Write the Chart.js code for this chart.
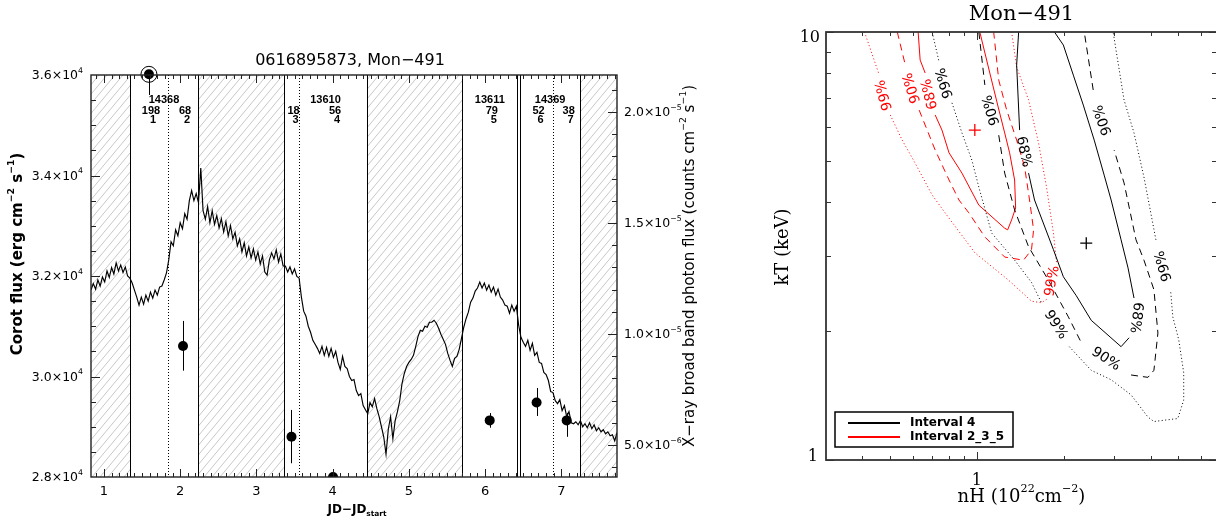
<!DOCTYPE html>
<html>
<head>
<meta charset="utf-8">
<script src="https://cdn.jsdelivr.net/npm/chart.js@4/dist/chart.umd.min.js"></script>
<style>
  html, body { margin: 0; padding: 0; background: #fff; overflow: hidden; width: 1216px; height: 520px; }
  #lc { position: absolute; left: 0; top: 0; }
  #ct { position: absolute; left: 740px; top: 0; }
</style>
</head>
<body>
<canvas id="lc" width="740" height="520"></canvas>
<canvas id="ct" width="500" height="520"></canvas>
<script>
// ---------------- Left panel: CoRoT light curve with Chandra fluxes ----------------
const corotTime = [
  0.83,0.86,0.89,0.92,0.95,0.98,1.01,1.04,1.07,1.10,
  1.13,1.16,1.19,1.22,1.25,1.28,1.31,1.34,1.37,1.40,
  1.43,1.46,1.49,1.52,1.55,1.58,1.61,1.64,1.67,1.70,
  1.73,1.76,1.79,1.82,1.85,1.88,1.91,1.94,1.97,2.00,
  2.03,2.06,2.09,2.12,2.15,2.18,2.21,2.24,2.27,2.30,
  2.33,2.36,2.39,2.42,2.45,2.48,2.51,2.54,2.57,2.60,
  2.63,2.66,2.69,2.72,2.75,2.78,2.81,2.84,2.87,2.90,
  2.93,2.96,2.99,3.02,3.05,3.08,3.11,3.14,3.17,3.20,
  3.23,3.26,3.29,3.32,3.35,3.38,3.41,3.44,3.47,3.50,
  3.53,3.56,3.59,3.62,3.65,3.68,3.71,3.74,3.77,3.80,
  3.83,3.86,3.89,3.92,3.95,3.98,4.01,4.04,4.07,4.10,
  4.13,4.16,4.19,4.22,4.25,4.28,4.31,4.34,4.37,4.40,
  4.43,4.46,4.49,4.52,4.55,4.58,4.61,4.64,4.67,4.70,
  4.73,4.76,4.79,4.82,4.85,4.88,4.91,4.94,4.97,5.00,
  5.03,5.06,5.09,5.12,5.15,5.18,5.21,5.24,5.27,5.30,
  5.33,5.36,5.39,5.42,5.45,5.48,5.51,5.54,5.57,5.60,
  5.63,5.66,5.69,5.72,5.75,5.78,5.81,5.84,5.87,5.90,
  5.93,5.96,5.99,6.02,6.05,6.08,6.11,6.14,6.17,6.20,
  6.23,6.26,6.29,6.32,6.35,6.38,6.41,6.44,6.47,6.50,
  6.53,6.56,6.59,6.62,6.65,6.68,6.71,6.74,6.77,6.80,
  6.83,6.86,6.89,6.92,6.95,6.98,7.01,7.04,7.07,7.10,
  7.13,7.16,7.19,7.22,7.25,7.28,7.31,7.34,7.37,7.40,
  7.43,7.46,7.49,7.52,7.55,7.58,7.61,7.64,7.67,7.70,
  7.73
];
const corotFlux = [
  31720,31850,31740,31920,31800,31980,31880,32100,31970,32170,
  32040,32260,32100,32220,32070,32180,32000,31960,31860,31720,
  31580,31420,31580,31440,31620,31500,31680,31560,31720,31620,
  31780,31800,31920,32060,32320,32680,32600,32920,32800,33060,
  32940,33240,33130,33500,33700,33500,33640,33460,34150,33300,
  33130,33380,33060,33300,33030,33200,32960,33140,32880,33080,
  32800,33000,32740,32870,32600,32740,32480,32660,32400,32580,
  32360,32540,32320,32480,32240,32400,32080,32020,32320,32460,
  32340,32520,32280,32440,32200,32200,32080,32180,32040,32140,
  31990,31960,31580,31300,31200,31000,30880,30720,30640,30560,
  30460,30600,30420,30580,30400,30560,30380,30500,30280,30140,
  30400,30200,30160,30000,29920,29940,29720,29620,29660,29420,
  29340,29260,29480,29400,29560,29360,29200,29000,28800,28450,
  28950,29200,28760,29120,29300,29520,29860,30060,30200,30280,
  30340,30420,30600,30800,30920,30900,31000,30980,31080,31080,
  31120,31060,30960,30840,30740,30640,30460,30320,30200,30360,
  30400,30540,30760,30980,31150,31280,31480,31560,31700,31760,
  31880,31760,31860,31720,31820,31680,31780,31620,31740,31580,
  31520,31420,31400,31260,31420,31300,31400,31020,30780,30680,
  30600,30720,30520,30660,30420,30480,30280,30260,30080,30040,
  29920,29700,29680,29520,29460,29540,29320,29420,29200,29300,
  29080,29060,29100,29040,29120,29000,29060,28980,29080,28960,
  29040,28920,28980,28900,28940,28860,28900,28820,28840,28720,
  28880
];

// X-ray broad band photon flux per interval (counts cm^-2 s^-1)
const xrayTime = [1.59, 2.037, 3.46, 4.005, 6.06, 6.675, 7.07];
const xrayFlux = [2.17e-5, 0.946e-5, 0.537e-5, 0.356e-5, 0.611e-5, 0.692e-5, 0.611e-5];
const xrayLow  = [2.077e-5, 0.835e-5, 0.418e-5, 0.356e-5, 0.578e-5, 0.631e-5, 0.537e-5];
const xrayHigh = [2.30e-5, 1.059e-5, 0.658e-5, 0.356e-5, 0.644e-5, 0.757e-5, 0.645e-5];

// Chandra pointings and the intervals they are split into
const obsIds    = ['14368', '13610', '13611', '14369'];
const obsSpans  = [[1.341, 2.234], [3.362, 4.451], [5.698, 6.424], [6.459, 7.247]];
const intervals = [[1.341, 1.84], [1.84, 2.234], [3.362, 3.559], [3.559, 4.451], [5.698, 6.424], [6.459, 6.892], [6.892, 7.247]];
const intervalCounts = ['198', '68', '18', '56', '79', '52', '38'];
const intervalNames  = ['1', '2', '3', '4', '5', '6', '7'];
const intervalSplits = [1.84, 3.559, 6.892];
const hatchedRanges  = [[0.83, 1.341], [2.234, 3.362], [4.451, 5.698], [7.247, 7.73]];

const jdTicks    = [1, 2, 3, 4, 5, 6, 7];
const fluxTicks  = [28000, 30000, 32000, 34000, 36000];
const fluxMant   = ['2.8', '3.0', '3.2', '3.4', '3.6'];
const xrayTicks  = [5e-6, 1e-5, 1.5e-5, 2e-5];
const xrayMant   = ['5.0', '1.0', '1.5', '2.0'];
const xrayExp    = ['−6', '−5', '−5', '−5'];

// ---------------- Right panel: nH-kT confidence contours ----------------
const int4C68 = [[1.396,10],[1.374,8.37],[1.407,5.90],null,[1.511,4.68],[1.585,4.05],[1.843,3.10],[1.995,2.68],[2.212,2.42],[2.492,2.12],[3.162,1.84],[3.370,1.93],null,[3.506,2.39],[3.343,2.81],[3.162,3.27],[2.921,4.05],[2.763,4.63],[2.552,5.59],[2.339,6.75],[2.160,7.93],[1.995,9.32],[1.858,10]];
const int4C90 = [[1.016,10],[1.066,7.52],null,[1.191,5.74],[1.249,4.68],[1.352,3.84],[1.511,3.15],[1.771,2.63],[2.076,2.16],[2.302,1.88],null,[3.424,1.58],[3.918,1.56],[4.110,1.62],[4.243,1.98],[4.110,2.50],[3.796,2.93],[3.562,3.27],[3.238,4.44],[2.991,5.30],null,[2.532,7.32],[2.357,10]];
const int4C99 = [[0.700,10],[0.740,8.51],null,[0.820,6.83],[0.888,5.81],[0.961,5.02],[1.016,4.34],[1.126,3.39],[1.352,2.93],[1.547,2.60],[1.675,2.33],null,[2.092,1.84],[2.492,1.62],[2.921,1.54],[3.424,1.42],[3.918,1.26],[4.110,1.23],[4.973,1.25],[5.213,1.38],[5.213,1.60],[5.010,1.91],[4.779,2.16],[4.700,2.47],null,[4.176,3.27],[3.796,4.58],[3.506,5.81],[3.238,6.94],[2.968,10]];
const int235C68 = [[0.626,10],[0.636,8.60],[0.662,8.02],null,[0.717,6.40],[0.757,5.90],[0.801,5.22],[0.888,4.68],[1.016,3.94],[1.249,3.48],[1.279,3.45],[1.320,3.64],[1.363,3.88],[1.352,4.51],[1.299,5.22],[1.249,5.81],[1.181,6.75],[1.109,8.02],[1.024,10]];
const int235C90 = [[0.530,10],[0.565,8.37],null,[0.631,6.57],[0.717,5.30],[0.801,4.51],[0.867,4.05],[0.938,3.78],[1.066,3.32],[1.249,2.98],[1.452,2.93],[1.547,3.10],[1.573,3.45],[1.523,4.05],[1.464,4.84],[1.374,5.59],[1.269,6.57],[1.191,7.72],[1.144,10]];
const int235C99 = [[0.408,10],[0.459,7.93],null,[0.501,6.40],[0.551,5.59],[0.611,4.94],[0.700,4.16],[0.776,3.78],[0.984,3.05],[1.289,2.63],[1.547,2.35],[1.675,2.33],[1.757,2.38],null,[1.888,2.90],[1.843,3.39],[1.743,4.35],[1.636,5.51],[1.511,6.94],[1.374,8.28],[1.320,10]];

const bestInt4   = [2.395, 3.21];
const bestInt235 = [0.984, 5.90];

// contour labels: [nH, kT, text, angle in degrees]
const int4Labels = [[0.776,7.60,'99%',-107],[1.126,6.57,'90%',-106],[1.452,5.25,'68%',78],[2.741,6.23,'90%',-109],[3.562,2.15,'68%',97],[1.873,2.07,'99%',57],[2.80,1.72,'90%',33],[4.45,2.84,'99%',-106]];
const int235Labels = [[0.478,7.12,'99%',-105],[0.597,7.40,'90%',-107],[0.688,7.16,'68%',-104],[1.828,2.62,'99%',-80]];
const legendLabels = ['Interval 4', 'Interval 2_3_5'];
const nhTicks = [0.4,0.5,0.6,0.7,0.8,0.9,1,2,3,4,5,6];
const ktTicks = [1,2,3,4,5,6,7,8,9,10];

// ---------------- helpers ----------------
function drawRich(ctx, parts, x, y, o) {
  const size = o.size, fam = o.family || 'DejaVu Sans', wt = o.weight || 'normal';
  const small = size * 0.62;
  const fontFor = lv => `${wt} ${lv ? small : size}px "${fam}"`;
  const widths = [];
  let w = 0;
  for (const [t, lv] of parts) { ctx.font = fontFor(lv); const m = ctx.measureText(t).width; widths.push(m); w += m; }
  let cx = o.align === 'right' ? x - w : (o.align === 'left' ? x : x - w / 2);
  ctx.textBaseline = 'middle';
  ctx.textAlign = 'left';
  parts.forEach(([t, lv], i) => {
    ctx.font = fontFor(lv);
    const dy = lv === 1 ? -size * 0.42 : (lv === -1 ? size * 0.32 : 0);
    ctx.fillText(t, cx, y + dy);
    cx += widths[i];
  });
}
function drawRotated(ctx, parts, x, y, angle, o) {
  ctx.save();
  ctx.translate(x, y);
  ctx.rotate(angle);
  drawRich(ctx, parts, 0, 0, o);
  ctx.restore();
}
const crisp = v => Math.round(v) + 0.5;

// ---------------- left panel decorations ----------------
const lightCurveDecor = {
  id: 'lightCurveDecor',
  beforeDatasetsDraw(chart) {
    const { ctx, chartArea: a, scales: { x, y2 } } = chart;
    const h = a.bottom - a.top;
    ctx.save();
    ctx.beginPath(); ctx.rect(a.left, a.top, a.right - a.left, h); ctx.clip();
    // hatching over the gaps between X-ray pointings
    ctx.strokeStyle = '#c2c2c2'; ctx.lineWidth = 0.9;
    const run = h / 1.2;
    hatchedRanges.forEach(([t0, t1]) => {
      const x0 = x.getPixelForValue(t0), x1 = x.getPixelForValue(t1);
      ctx.save();
      ctx.beginPath(); ctx.rect(x0, a.top, x1 - x0, h); ctx.clip();
      ctx.beginPath();
      for (let s = a.left - run; s < a.right + 8; s += 8) { ctx.moveTo(s, a.bottom); ctx.lineTo(s + run, a.top); }
      ctx.stroke();
      ctx.restore();
    });
    // pointing edges (solid) and interval splits (dotted)
    ctx.strokeStyle = '#000'; ctx.lineWidth = 1;
    obsSpans.forEach(span => span.forEach(t => {
      const px = crisp(x.getPixelForValue(t));
      ctx.beginPath(); ctx.moveTo(px, a.top); ctx.lineTo(px, a.bottom); ctx.stroke();
    }));
    ctx.setLineDash([1, 2]);
    intervalSplits.forEach(t => {
      const px = crisp(x.getPixelForValue(t));
      ctx.beginPath(); ctx.moveTo(px, a.top); ctx.lineTo(px, a.bottom); ctx.stroke();
    });
    ctx.setLineDash([]);
    // X-ray error bars
    xrayTime.forEach((t, i) => {
      const px = crisp(x.getPixelForValue(t));
      ctx.beginPath();
      ctx.moveTo(px, y2.getPixelForValue(xrayLow[i]));
      ctx.lineTo(px, y2.getPixelForValue(xrayHigh[i]));
      ctx.stroke();
    });
    ctx.restore();
  },
  afterDatasetsDraw(chart) {
    const { ctx, chartArea: a, scales: { x, y, y2 } } = chart;
    ctx.save();
    // ring round the first X-ray point
    const p0 = chart.getDatasetMeta(1).data[0];
    ctx.strokeStyle = '#000'; ctx.lineWidth = 1;
    ctx.beginPath(); ctx.arc(p0.x, p0.y, 8, 0, Math.PI * 2); ctx.stroke();

    // frame
    ctx.strokeStyle = '#222'; ctx.lineWidth = 1.4;
    ctx.strokeRect(a.left, a.top, a.right - a.left, a.bottom - a.top);

    // ticks
    ctx.lineWidth = 1; ctx.strokeStyle = '#222';
    ctx.beginPath();
    for (let k = 9; k <= 77; k++) {
      const px = crisp(x.getPixelForValue(k / 10));
      const len = k % 10 === 0 ? 8 : 4;
      ctx.moveTo(px, a.bottom); ctx.lineTo(px, a.bottom - len);
      ctx.moveTo(px, a.top); ctx.lineTo(px, a.top + len);
    }
    for (let v = 28500; v < 36000; v += 500) {
      const py = crisp(y.getPixelForValue(v));
      const len = v % 2000 === 0 ? 9 : 5;
      ctx.moveTo(a.left, py); ctx.lineTo(a.left + len, py);
    }
    for (let k = 4; k <= 21; k++) {
      const py = crisp(y2.getPixelForValue(k * 1e-6));
      const len = k % 5 === 0 ? 9 : 5;
      ctx.moveTo(a.right, py); ctx.lineTo(a.right - len, py);
    }
    ctx.stroke();

    // tick labels
    ctx.fillStyle = '#000';
    fluxTicks.forEach((v, i) => drawRich(ctx, [[fluxMant[i] + '×10', 0], ['4', 1]], a.left - 8, y.getPixelForValue(v) + 1, { size: 12.5, align: 'right' }));
    xrayTicks.forEach((v, i) => drawRich(ctx, [[xrayMant[i] + '×10', 0], [xrayExp[i], 1]], a.right + 7, y2.getPixelForValue(v) + 1, { size: 12.5, align: 'left' }));
    jdTicks.forEach(v => drawRich(ctx, [[String(v), 0]], x.getPixelForValue(v), a.bottom + 15, { size: 13 }));

    // pointing and interval labels
    ctx.font = 'bold 11px "Liberation Sans"';
    ctx.textAlign = 'center'; ctx.textBaseline = 'middle';
    obsSpans.forEach(([t0, t1], i) => ctx.fillText(obsIds[i], x.getPixelForValue((t0 + t1) / 2), a.top + 25));
    intervals.forEach(([t0, t1], i) => {
      const cx = x.getPixelForValue((t0 + t1) / 2);
      ctx.fillText(intervalCounts[i], cx + 2, a.top + 36);
      ctx.fillText(intervalNames[i], cx + 4, a.top + 45);
    });

    // titles
    drawRich(ctx, [['0616895873, Mon−491', 0]], (a.left + a.right) / 2 - 4, 61, { size: 16 });
    drawRich(ctx, [['JD−JD', 0], ['start', -1]], (a.left + a.right) / 2 + 3, 510, { size: 12, weight: 'bold' });
    drawRotated(ctx, [['Corot flux (erg cm', 0], ['−2', 1], [' s', 0], ['−1', 1], [')', 0]], 18, 254, -Math.PI / 2, { size: 15, weight: 'bold' });
    drawRotated(ctx, [['X−ray broad band photon flux (counts cm', 0], ['−2', 1], [' s', 0], ['−1', 1], [')', 0]], 690, 266, -Math.PI / 2, { size: 15 });
    ctx.restore();
  }
};

new Chart(document.getElementById('lc'), {
  type: 'scatter',
  data: {
    datasets: [
      {
        data: corotTime.map((t, i) => ({ x: t, y: corotFlux[i] })),
        yAxisID: 'y', showLine: true, borderColor: '#000', borderWidth: 1.15,
        pointRadius: 0, tension: 0
      },
      {
        data: xrayTime.map((t, i) => ({ x: t, y: xrayFlux[i] })),
        yAxisID: 'y2', pointRadius: 5, backgroundColor: '#000', borderColor: '#000',
        borderWidth: 0, clip: { left: 0, top: 12, right: 0, bottom: 0 }
      }
    ]
  },
  options: {
    responsive: false, animation: false, devicePixelRatio: 1, events: [],
    layout: { padding: { left: 91, top: 75, right: 123, bottom: 43 } },
    scales: {
      x: { type: 'linear', min: 0.83, max: 7.73, display: false },
      y: { type: 'linear', min: 28000, max: 36000, display: false },
      y2: { type: 'linear', position: 'right', min: 3.56e-6, max: 2.167e-5, display: false }
    },
    plugins: { legend: { display: false }, tooltip: { enabled: false } }
  },
  plugins: [lightCurveDecor]
});

// ---------------- right panel ----------------
const RED = '#ff0000';
const contourSet = (pts, colour, dash) => ({
  data: pts.map(p => p ? { x: p[0], y: p[1] } : { x: null, y: null }),
  showLine: true, pointRadius: 0, borderColor: colour, borderWidth: 1,
  borderDash: dash, spanGaps: false, tension: 0
});

const contourDecor = {
  id: 'contourDecor',
  afterDatasetsDraw(chart) {
    const { ctx, chartArea: a, scales: { x, y } } = chart;
    ctx.save();
    // contour level labels
    const drawLabels = (list, colour) => {
      ctx.fillStyle = colour;
      ctx.font = '14px "DejaVu Sans"';
      ctx.textAlign = 'center'; ctx.textBaseline = 'middle';
      list.forEach(([nh, kt, txt, ang]) => {
        ctx.save();
        ctx.translate(x.getPixelForValue(nh), y.getPixelForValue(kt));
        ctx.rotate(ang * Math.PI / 180);
        ctx.fillText(txt, 0, 0);
        ctx.restore();
      });
    };
    drawLabels(int235Labels, RED);
    drawLabels(int4Labels, '#000');

    // frame
    ctx.strokeStyle = '#333'; ctx.lineWidth = 1.8;
    ctx.strokeRect(a.left, a.top, a.right - a.left, a.bottom - a.top);

    // ticks
    ctx.lineWidth = 1; ctx.strokeStyle = '#333';
    ctx.beginPath();
    ktTicks.forEach(v => {
      const py = crisp(y.getPixelForValue(v));
      const len = (v === 1 || v === 10) ? 8 : 5;
      ctx.moveTo(a.left, py); ctx.lineTo(a.left + len, py);
      ctx.moveTo(a.right, py); ctx.lineTo(a.right - len, py);
    });
    nhTicks.forEach(v => {
      const px = crisp(x.getPixelForValue(v));
      const len = v === 1 ? 8 : 4;
      ctx.moveTo(px, a.bottom); ctx.lineTo(px, a.bottom - len);
      ctx.moveTo(px, a.top); ctx.lineTo(px, a.top + len);
    });
    ctx.stroke();

    // tick labels
    ctx.fillStyle = '#000';
    const serif = { size: 16, family: 'DejaVu Serif' };
    drawRich(ctx, [['10', 0]], a.left - 6, y.getPixelForValue(10) + 6, { ...serif, align: 'right' });
    drawRich(ctx, [['1', 0]], a.left - 8, y.getPixelForValue(1) - 3, { ...serif, align: 'right' });
    drawRich(ctx, [['1', 0]], x.getPixelForValue(1), a.bottom + 21, serif);

    // titles
    drawRich(ctx, [['Mon−491', 0]], (a.left + a.right) / 2, 15, { size: 21, family: 'DejaVu Serif' });
    drawRich(ctx, [['nH (10', 0], ['22', 1], ['cm', 0], ['−2', 1], [')', 0]], (a.left + a.right) / 2, 497, { size: 18, family: 'DejaVu Serif' });
    drawRotated(ctx, [['kT (keV)', 0]], 43, 247, -Math.PI / 2, { size: 18, family: 'DejaVu Serif' });

    // legend
    const lx = a.left + 9, ly = a.bottom - 48;
    ctx.strokeStyle = '#000'; ctx.lineWidth = 1.5;
    ctx.strokeRect(lx, ly, 178, 35);
    ctx.lineWidth = 2;
    [['#000', 11], [RED, 25]].forEach(([c, dy]) => {
      ctx.strokeStyle = c;
      ctx.beginPath(); ctx.moveTo(lx + 13, ly + dy); ctx.lineTo(lx + 65, ly + dy); ctx.stroke();
    });
    ctx.fillStyle = '#000';
    ctx.font = 'bold 12px "DejaVu Sans"';
    ctx.textAlign = 'left'; ctx.textBaseline = 'middle';
    ctx.fillText(legendLabels[0], lx + 75, ly + 11);
    ctx.fillText(legendLabels[1], lx + 75, ly + 25);
    ctx.restore();
  }
};

new Chart(document.getElementById('ct'), {
  type: 'scatter',
  data: {
    datasets: [
      contourSet(int4C68, '#000', []),
      contourSet(int4C90, '#000', [7, 5]),
      contourSet(int4C99, '#000', [1, 2.5]),
      contourSet(int235C68, RED, []),
      contourSet(int235C90, RED, [7, 5]),
      contourSet(int235C99, RED, [1, 2.5]),
      { data: [{ x: bestInt4[0], y: bestInt4[1] }], pointStyle: 'cross', pointRadius: 6, borderColor: '#000', borderWidth: 1.3 },
      { data: [{ x: bestInt235[0], y: bestInt235[1] }], pointStyle: 'cross', pointRadius: 6, borderColor: RED, borderWidth: 1.3 }
    ]
  },
  options: {
    responsive: false, animation: false, devicePixelRatio: 1, events: [],
    layout: { padding: { left: 86, top: 32, right: 23, bottom: 60 } },
    scales: {
      x: { type: 'logarithmic', min: 0.306, max: 6.8, display: false },
      y: { type: 'logarithmic', min: 1, max: 10, display: false }
    },
    plugins: { legend: { display: false }, tooltip: { enabled: false } }
  },
  plugins: [contourDecor]
});
</script>
</body>
</html>
